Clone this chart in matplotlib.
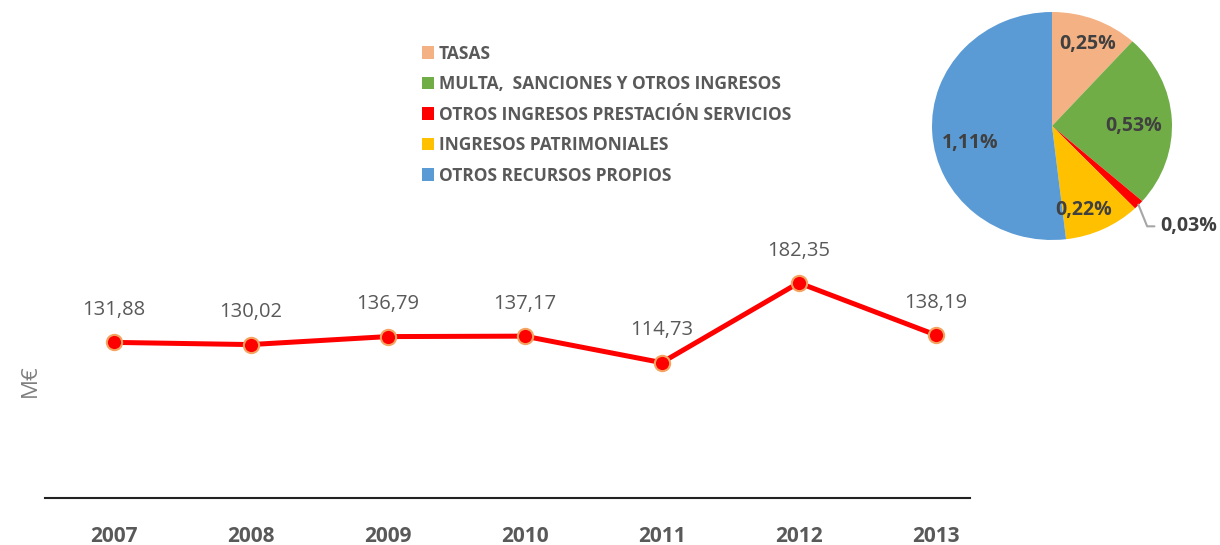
import matplotlib.pyplot as plt

years = ["2007", "2008", "2009", "2010", "2011", "2012", "2013"]
values = [131.88, 130.02, 136.79, 137.17, 114.73, 182.35, 138.19]

pie_labels = ["TASAS", "MULTA,  SANCIONES Y OTROS INGRESOS",
              "OTROS INGRESOS PRESTACIÓN SERVICIOS",
              "INGRESOS PATRIMONIALES", "OTROS RECURSOS PROPIOS"]
pie_values = [0.25, 0.53, 0.03, 0.22, 1.11]
pie_colors = ["#F4B183", "#70AD47", "#FF0000", "#FFC000", "#5B9BD5"]

W, H = 1220, 545
fig = plt.figure(figsize=(W / 100, H / 100), dpi=100)
plt.rcParams['font.family'] = ['Open Sans', 'DejaVu Sans']
gray = "#595959"

# line chart
ax = fig.add_axes([45 / W, 47 / H, 925 / W, 295 / H])
x = range(len(years))
ax.plot(x, values, color="#FF0000", linewidth=3.6, marker="o", markersize=11,
        markerfacecolor="#FF0000", markeredgecolor="#F4A460", markeredgewidth=1.5,
        zorder=3)
for i, v in zip(x, values):
    ax.annotate("{:.2f}".format(v).replace(".", ","), (i, v), xytext=(0, 16),
                textcoords="offset points", ha="center", va="bottom",
                fontsize=14.5, color=gray)
ax.set_xlim(-0.5, 6.25)
ax.set_ylim(0, 250)
ax.set_xticks(list(x))
ax.set_xticklabels(years, fontsize=15, color=gray, fontweight="bold")
ax.tick_params(axis="x", length=0, pad=20)
ax.set_yticks([])
for s in ["top", "right", "left"]:
    ax.spines[s].set_visible(False)
ax.spines["bottom"].set_linewidth(1.5)
ax.spines["bottom"].set_color("#222222")
ax.patch.set_alpha(0)
fig.text(30 / W, 1 - 381 / H, "M€", rotation=90, ha="center", va="center",
         fontsize=16, color="#7F7F7F")

# pie chart
rx, ry = 120, 114
axp = fig.add_axes([(1052 - rx) / W, 1 - (126 + ry) / H, 2 * rx / W, 2 * ry / H])
wedges, _ = axp.pie(pie_values, colors=pie_colors, startangle=90,
                    counterclock=False, radius=1,
                    wedgeprops=dict(edgecolor="none"))
axp.set_xlim(-1, 1)
axp.set_ylim(-1, 1)
axp.set_aspect("auto")
axp.axis("off")
lbl_pos = [(0.30, 0.72), (0.68, 0.00), None, (0.26, -0.74), (-0.68, -0.15)]
for i, (v, p) in enumerate(zip(pie_values, lbl_pos)):
    txt = "{:.2f}%".format(v).replace(".", ",")
    if p is None:
        axp.annotate(txt, xy=(0.72, -0.69), xytext=(0.90, -0.88),
                     ha="left", va="center", fontsize=14, fontweight="bold",
                     color="#404040",
                     arrowprops=dict(arrowstyle="-", color="#A6A6A6", lw=1.5,
                                     shrinkA=2, shrinkB=0,
                                     connectionstyle="angle,angleA=0,angleB=112,rad=0"),
                     annotation_clip=False)
    else:
        axp.text(p[0], p[1], txt, ha="center", va="center", fontsize=14,
                 fontweight="bold", color="#404040")

fig.legend(wedges, pie_labels, loc="upper left",
           bbox_to_anchor=(406 / W, 1 - 29 / H), frameon=False,
           handlelength=0.7, handleheight=0.7, handletextpad=0.3,
           labelspacing=0.72, labelcolor=gray,
           prop=dict(weight="bold", size=12.5))

fig.savefig("out.png", dpi=100)
